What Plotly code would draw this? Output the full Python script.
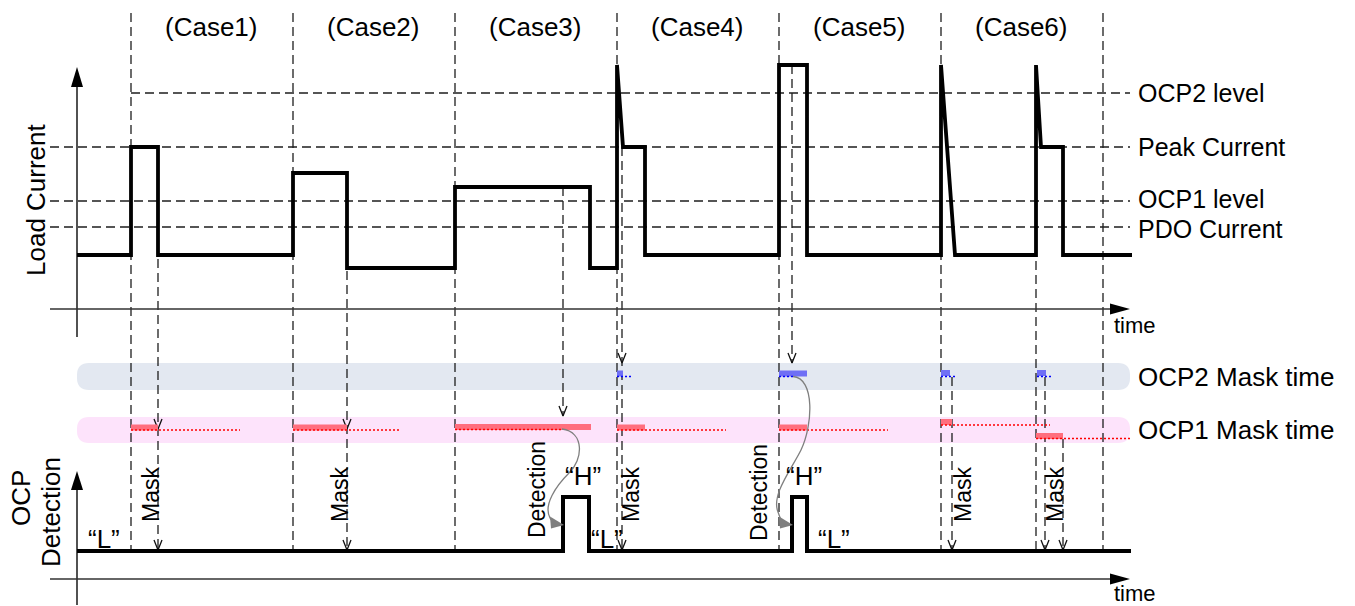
import plotly.graph_objects as go

W, H = 1355, 606
FONT = "Arial, Liberation Sans, sans-serif"
DASH = "9px,5px"
DCOL = "#1e1e1e"

# ---------------- data (time / level positions) ----------------
case_bounds = [131, 293, 455, 617, 779, 941, 1103]
case_label_x = [211, 373, 535, 697, 859, 1021]
case_labels = ["(Case1)", "(Case2)", "(Case3)", "(Case4)", "(Case5)", "(Case6)"]

level_names = ["OCP2 level", "Peak Current", "OCP1 level", "PDO Current"]
level_y = [93, 147, 201, 227]
level_label_y = [93, 147, 199, 229]
level_x0 = [131, 50, 50, 50]

load_t = [77, 131, 131, 158, 158, 293, 293, 347, 347, 455, 455, 590, 590, 617, 617, 623, 645, 645,
          779, 779, 807, 807, 941, 941, 955, 1036, 1036, 1041, 1063, 1063, 1132]
load_i = [255, 255, 147, 147, 255, 255, 173, 173, 268, 268, 187, 187, 268, 268, 65, 147, 147, 255,
          255, 65, 65, 255, 255, 65, 255, 255, 65, 147, 147, 255, 255]

det_t = [77, 563, 563, 589, 589, 792, 792, 807, 807, 1131]
det_v = [551, 551, 497, 497, 551, 551, 497, 497, 551, 551]

# OCP1 mask timer bars (red)
ocp1_start = [131, 293, 455, 617, 779, 941, 1036]
ocp1_end = [158, 347, 591, 645, 807, 952, 1063]
ocp1_row = [427.5, 427.5, 427, 427.5, 427.5, 422, 436]
ocp1_timer_end = [240, 401, 563, 726, 888, 1050, 1130]
ocp1_timer_y = [430, 430, 429.5, 430, 430, 425, 438.5]

# OCP2 mask timer bars (blue)
ocp2_start = [617, 779, 941, 1037]
ocp2_end = [623, 807, 950, 1046]
ocp2_row = [373.5, 373.5, 373, 373]
ocp2_timer_end = [632, 793, 955, 1051]
ocp2_timer_y = [376.5, 376.5, 376.5, 376.5]

# event (dashed) arrows
evt_x = [158, 347, 563, 622, 792, 952, 1045, 1063, 1036]
evt_y0 = [147, 173, 187, 147, 65, 377, 377, 439, 65]
evt_y1 = [551, 551, 416, 551, 363, 551, 551, 551, 551]
evt_tips = [[429, 550], [429, 550], [416], [363, 550], [363], [550], [550], [550], []]

band_names = ["OCP2 Mask time", "OCP1 Mask time"]
band_top = [363, 417]
band_bot = [390, 443]
band_col = ["#E3E8F1", "#FDE3FB"]

mask_label_x = [151, 340, 631, 963, 1055]
detect_label_x = [537, 759]
detect_label_y = [490, 493]
high_label_x = [583, 804]
low_label_x = [104, 607, 834]

fig = go.Figure()


def seg_trace(xs, ys, color, width, dash=None):
    fig.add_trace(go.Scatter(x=xs, y=ys, mode="lines", hoverinfo="skip", showlegend=False,
                             line=dict(color=color, width=width, dash=dash)))


# bands (rounded)
def rrect(x0, y0, x1, y1, r):
    return (f"M{x0+r},{y0} L{x1-r},{y0} Q{x1},{y0} {x1},{y0+r} L{x1},{y1-r} Q{x1},{y1} {x1-r},{y1} "
            f"L{x0+r},{y1} Q{x0},{y1} {x0},{y1-r} L{x0},{y0+r} Q{x0},{y0} {x0+r},{y0} Z")


shapes = []
for t, b, c in zip(band_top, band_bot, band_col):
    shapes.append(dict(type="path", path=rrect(77, t, 1130, b, 12), xref="x", yref="y",
                       fillcolor=c, line=dict(width=0), layer="below"))

# case boundaries
xs, ys = [], []
for x in case_bounds:
    xs += [x, x, None]
    ys += [13, 551, None]
seg_trace(xs, ys, DCOL, 1.3, DASH)

# level lines
xs, ys = [], []
for x0, y in zip(level_x0, level_y):
    xs += [x0, 1130, None]
    ys += [y, y, None]
seg_trace(xs, ys, DCOL, 1.3, DASH)

# event dashed lines
xs, ys = [], []
for x, a, b in zip(evt_x, evt_y0, evt_y1):
    xs += [x, x, None]
    ys += [a, b, None]
seg_trace(xs, ys, DCOL, 1.3, DASH)

# V arrow heads
xs, ys = [], []
for x, tips in zip(evt_x, evt_tips):
    for t in tips:
        xs += [x - 4, x, x + 4, None]
        ys += [t - 10, t, t - 10, None]
seg_trace(xs, ys, "#111111", 1.3)

# axes
AX = "#333333"
seg_trace([77, 77, None, 50, 1112, None, 77, 77, None, 50, 1112],
          [337, 84, None, 309, 309, None, 605, 487, None, 579, 579], AX, 1.7)
for p in ["M77,67 L71,87 L83,87 Z", "M1130,309 L1110,303.5 L1110,314.5 Z",
          "M77,471 L71,490 L83,490 Z", "M1130,579 L1110,573.5 L1110,584.5 Z"]:
    shapes.append(dict(type="path", path=p, xref="x", yref="y", fillcolor="black", line=dict(width=0)))

# mask bars
for s, e, r in zip(ocp1_start, ocp1_end, ocp1_row):
    seg_trace([s, e], [r, r], "#FF6E7E", 6)
for s, e, r in zip(ocp2_start, ocp2_end, ocp2_row):
    seg_trace([s, e], [r, r], "#6F6FF5", 6)
for s, e, r in zip(ocp1_start, ocp1_timer_end, ocp1_timer_y):
    seg_trace([s, e], [r, r], "#FF0000", 1.5, "2px,2px")
for s, e, r in zip(ocp2_start, ocp2_timer_end, ocp2_timer_y):
    seg_trace([s, e], [r, r], "#0000FF", 1.5, "2px,2px")

# waveforms
seg_trace(load_t, load_i, "black", 3.8)
seg_trace(det_t, det_v, "black", 4)

# curved detection arrows
GR = "#7f7f7f"
curves = ["M562,429 C585,432 583,460 569,473 C556,486 543,505 550,518 Q554,524 553,524",
          "M793,376.5 C815,378 813,425 801,450 C791,470 771,495 778,512 Q782,523 782,523"]
for c in curves:
    shapes.append(dict(type="path", path=c, xref="x", yref="y", line=dict(color=GR, width=1.3)))
for p in ["M564,525 L550,516.5 L551,528.5 Z", "M793,525 L779,516.5 L780,528.5 Z"]:
    shapes.append(dict(type="path", path=p, xref="x", yref="y", fillcolor=GR, line=dict(width=0)))

# ---------------- text ----------------
ann = []


def txt(x, y, s, size=26, angle=0, xanchor="center"):
    ann.append(dict(x=x, y=y, xref="x", yref="y", text=s, showarrow=False, textangle=angle,
                    xanchor=xanchor, yanchor="middle", font=dict(family=FONT, size=size, color="black")))


for x, s in zip(case_label_x, case_labels):
    txt(x, 27, s)
for y, s in zip(level_label_y, level_names):
    txt(1136, y, s, size=25, xanchor="left")
for t, b, s in zip(band_top, band_bot, band_names):
    txt(1136, (t + b) / 2, s, xanchor="left")
txt(1112, 325, "time", 22, xanchor="left")
txt(1112, 593, "time", 22, xanchor="left")
txt(36, 200, "Load Current", 26, -90)
txt(21, 498, "OCP", 26, -90)
txt(51, 512, "Detection", 26, -90)
for x in mask_label_x:
    txt(x, 495, "Mask", 23, -90)
for x, y in zip(detect_label_x, detect_label_y):
    txt(x, y, "Detection", 23, -90)
for x in high_label_x:
    txt(x, 476, "\u201cH\u201d", 26)
for x in low_label_x:
    txt(x, 539, "\u201cL\u201d", 26)

fig.update_layout(
    width=W, height=H, margin=dict(l=0, r=0, t=0, b=0),
    paper_bgcolor="white", plot_bgcolor="white",
    xaxis=dict(range=[0, W], visible=False, fixedrange=True),
    yaxis=dict(range=[H, 0], visible=False, fixedrange=True),
    shapes=shapes, annotations=ann, showlegend=False,
)
fig.write_html("out.html", config={"displayModeBar": False},
               post_script="document.body.style.margin='0';document.body.style.overflow='hidden';")
